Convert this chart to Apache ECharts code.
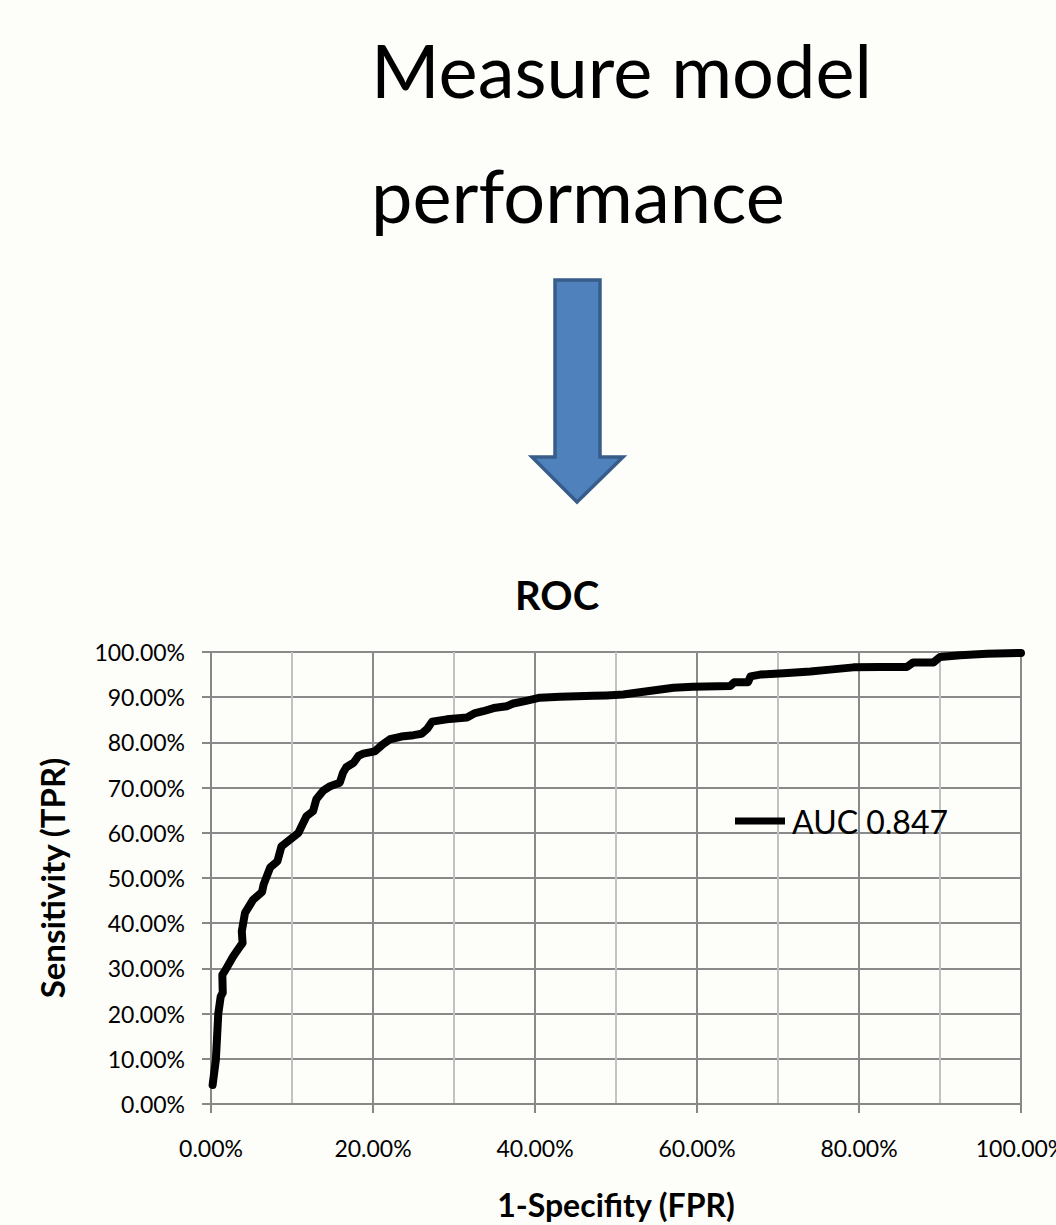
<!DOCTYPE html>
<html>
<head>
<meta charset="utf-8">
<script src="https://cdn.jsdelivr.net/npm/echarts@6/dist/echarts.min.js"></script>
<style>
  html, body { margin: 0; padding: 0; background: #fdfdf9; overflow: hidden; }
  #chart { width: 1056px; height: 1225px; }
</style>
</head>
<body>
<div id="chart"></div>
<script>
// ---- data ----
const seriesName = 'AUC 0.847';
const fprValues = [0.2, 0.6, 0.9, 1.2, 1.45, 1.4, 1.7, 2.75, 3.6, 3.9, 3.8, 4.2, 5.2, 6.3, 6.5, 7.3, 8.2, 8.7, 9.75, 10.8,
  11.2, 11.8, 12.6, 13.0, 13.9, 14.7, 15.9, 16.3, 16.7, 17.6, 18.2, 18.8, 20.2, 21.1, 22.1, 23.5, 25.0, 26.0, 26.7, 27.3,
  29.1, 31.6, 32.5, 33.6, 34.9, 36.5, 37.3, 38.9, 40.6, 43.1, 47.2, 48.8, 50.9, 53.4, 57.1, 59.5, 64.1, 64.6, 66.3, 66.6,
  67.8, 70.7, 74.0, 76.4, 79.3, 82.6, 85.9, 86.7, 89.2, 90.0, 92.5, 95.8, 100];
const tprValues = [4.2, 9.8, 20.0, 23.8, 24.6, 28.6, 29.4, 32.7, 34.9, 35.6, 38.2, 42.3, 45.2, 46.9, 48.6, 52.3, 53.7, 57.0, 58.5, 60.0,
  61.5, 63.7, 64.8, 67.4, 69.4, 70.3, 71.1, 73.3, 74.5, 75.5, 77.0, 77.5, 78.0, 79.4, 80.7, 81.3, 81.6, 81.9, 83.0, 84.6,
  85.1, 85.5, 86.4, 86.9, 87.6, 88.0, 88.6, 89.2, 89.9, 90.1, 90.3, 90.4, 90.6, 91.2, 92.1, 92.3, 92.5, 93.3, 93.3, 94.6,
  95.0, 95.3, 95.7, 96.1, 96.6, 96.7, 96.7, 97.7, 97.7, 98.9, 99.3, 99.6, 99.8];
const xTickLabels = ['0.00%', '20.00%', '40.00%', '60.00%', '80.00%', '100.00%'];
const yTickLabels = ['0.00%', '10.00%', '20.00%', '30.00%', '40.00%', '50.00%', '60.00%', '70.00%', '80.00%', '90.00%', '100.00%'];
const mainTitle = 'Measure model\nperformance';
const chartTitle = 'ROC';
const xAxisTitle = '1-Specifity (FPR)';
const yAxisTitle = 'Sensitivity (TPR)';

const points = fprValues.map((x, i) => [x, tprValues[i]]);

const chart = echarts.init(document.getElementById('chart'), null, { renderer: 'svg' });
const FONT = 'Lato, Carlito, "Open Sans", sans-serif';
const axisGray = '#878787';

chart.setOption({
  backgroundColor: '#fdfdf9',
  animation: false,
  title: [
    {
      text: mainTitle,
      left: 366, top: 2,
      textStyle: { fontFamily: FONT, fontSize: 74, fontWeight: 'normal', lineHeight: 125, color: '#000' }
    },
    {
      text: chartTitle,
      left: 510, top: 566,
      textStyle: { fontFamily: FONT, fontSize: 40, fontWeight: 'bold', lineHeight: 48, color: '#000' }
    }
  ],
  graphic: [
    {
      type: 'polygon',
      shape: { points: [[555, 280], [600, 280], [600, 457], [623, 457], [577, 502], [532, 457], [555, 457]] },
      style: { fill: '#4f81bd', stroke: '#385d8a', lineWidth: 3.5 }
    }
  ],
  legend: {
    left: 730, top: 800,
    icon: 'rect',
    itemWidth: 50, itemHeight: 7,
    textStyle: { fontFamily: FONT, fontSize: 32, color: '#000', padding: [0, 0, 0, 2] },
    data: [{ name: seriesName, itemStyle: { color: '#000' } }]
  },
  grid: { left: 211, right: 35, top: 652, bottom: 121, containLabel: false, outerBoundsMode: 'none' },
  xAxis: {
    type: 'value', min: 0, max: 100, interval: 20,
    name: xAxisTitle, nameLocation: 'middle', nameGap: 84,
    nameTextStyle: { fontFamily: FONT, fontSize: 32, fontWeight: 'bold', color: '#000' },
    axisLine: { show: true, lineStyle: { color: axisGray, width: 2 } },
    axisTick: { show: true, length: 9, inside: false, lineStyle: { color: axisGray, width: 2 } },
    axisLabel: {
      margin: 32, fontFamily: FONT, fontSize: 23, color: '#000',
      formatter: v => xTickLabels[Math.round(v / 20)]
    },
    splitLine: { show: true, lineStyle: { color: '#8a8a8a', width: 2 } },
    minorTick: { show: false, splitNumber: 2 },
    minorSplitLine: { show: true, lineStyle: { color: '#c2c2c2', width: 2 } }
  },
  yAxis: {
    type: 'value', min: 0, max: 100, interval: 10,
    name: yAxisTitle, nameLocation: 'middle', nameGap: 143,
    nameTextStyle: { fontFamily: FONT, fontSize: 33, fontWeight: 'bold', color: '#000' },
    axisLine: { show: true, lineStyle: { color: axisGray, width: 2 } },
    axisTick: { show: true, length: 9, inside: false, lineStyle: { color: axisGray, width: 2 } },
    axisLabel: {
      margin: 26, fontFamily: FONT, fontSize: 23, color: '#000',
      formatter: v => yTickLabels[Math.round(v / 10)]
    },
    splitLine: { show: true, lineStyle: { color: '#8a8a8a', width: 2 } }
  },
  series: [
    {
      name: seriesName,
      type: 'line',
      data: points,
      showSymbol: false,
      symbol: 'none',
      smooth: false,
      clip: false,
      lineStyle: { color: '#000', width: 8, join: 'round', cap: 'round' },
      itemStyle: { color: '#000' }
    }
  ]
});
</script>
</body>
</html>
